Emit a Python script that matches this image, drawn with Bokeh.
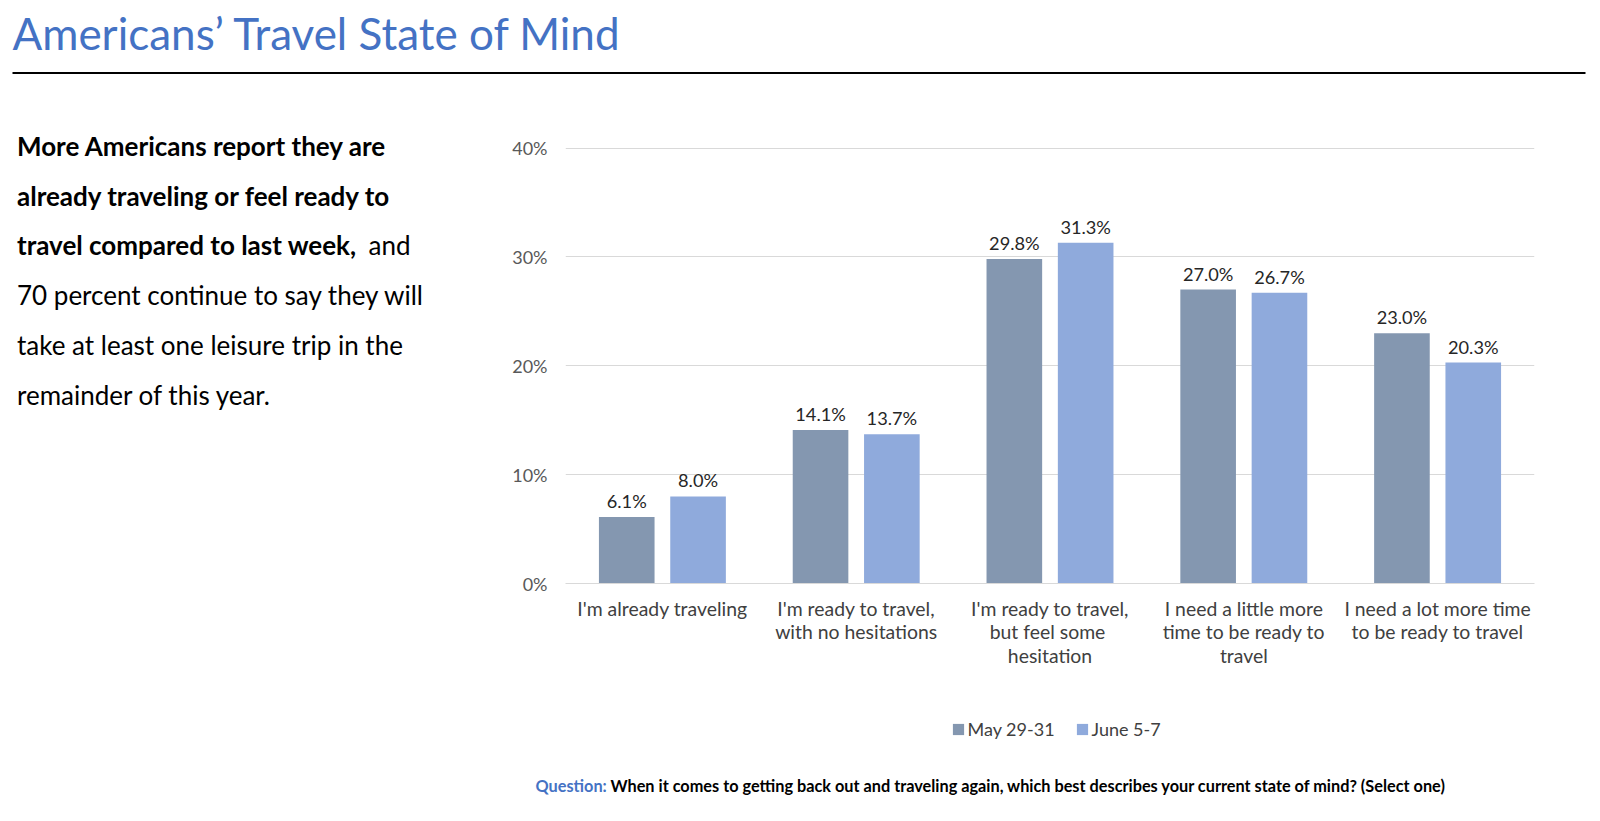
from bokeh.plotting import figure
from bokeh.layouts import column, row
from bokeh.models import (ColumnDataSource, FixedTicker, PrintfTickFormatter, Label,
                          LabelSet, Legend, LegendItem, BoxAnnotation, Range1d)
from bokeh.core.properties import value
from bokeh.embed import file_html
from bokeh.resources import INLINE

categories = ["I'm already traveling",
              "I'm ready to travel,\nwith no hesitations",
              "I'm ready to travel,\nbut feel  some\nhesitation",
              "I need a little more\ntime to be ready to\ntravel",
              "I need a lot more time\nto be ready to travel"]
may_values = [6.1, 14.1, 29.8, 27.0, 23.0]
june_values = [8.0, 13.7, 31.3, 26.7, 20.3]
series_names = ["May 29-31", "June 5-7"]
y_ticks = [0, 10, 20, 30, 40]

MAY_COLOR = "#8497B0"
JUNE_COLOR = "#8FAADC"
BLUE = "#4472C4"
FONT = "Lato"

W = 1590
H_TOP, H_MID, H_BOT = 120, 570, 115
W_LEFT = 480
W_CHART = W - W_LEFT
B_TOP, B_BOT = 8, 107          # shared frame borders of the middle row
Y_END = 41.8                   # headroom above 40% (keeps frame tall enough for text)


def text_fig(w, h, y_top=0, y_bot=None, b_top=0, b_bot=0):
    if y_bot is None:
        y_bot = h
    f = figure(width=w, height=h, output_backend="svg", toolbar_location=None,
               x_range=Range1d(0, w), y_range=Range1d(y_bot, y_top),
               x_axis_type=None, y_axis_type=None,
               min_border=0, min_border_left=0, min_border_right=0,
               min_border_top=b_top, min_border_bottom=b_bot)
    f.outline_line_color = None
    f.grid.visible = False
    f.background_fill_color = "white"
    f.border_fill_color = "white"
    return f


# ---------- top: title + rule ----------
ft = text_fig(W, H_TOP)
ft.add_layout(Label(x=12, y=32.5, text="Americans\u2019 Travel State of Mind", text_font=FONT,
                    text_font_size="44px", text_color=BLUE,
                    text_baseline="middle", text_align="left"))
ft.add_layout(BoxAnnotation(left=12, right=1585, top=71.6, bottom=73.6,
                            fill_color="black", fill_alpha=1, line_color=None))

# ---------- left: paragraph (data y = page y) ----------
fl = text_fig(W_LEFT, H_MID, y_top=H_TOP + B_TOP, y_bot=H_TOP + H_MID - B_BOT,
              b_top=B_TOP, b_bot=B_BOT)
para = [("More Americans report they are", "bold"),
        ("already traveling or feel ready to", "bold"),
        ("travel compared to last week,", "bold"),
        ("70 percent continue to say they will", "normal"),
        ("take at least one leisure trip in the", "normal"),
        ("remainder of this year.", "normal")]
y0, dy = 145.3, 49.8
for k, (t, st) in enumerate(para):
    fl.add_layout(Label(x=16.5, y=y0 + k * dy, text=t, text_font=FONT, text_font_style=st,
                        text_font_size="26px", text_color="black",
                        text_baseline="middle", text_align="left"))
fl.add_layout(Label(x=368, y=y0 + 2 * dy, text="and", text_font=FONT,
                    text_font_size="26px", text_color="black",
                    text_baseline="middle", text_align="left"))

# ---------- chart ----------
p = figure(width=W_CHART, height=H_MID, output_backend="svg", toolbar_location=None,
           x_range=(-0.5, len(categories) - 0.5), y_range=(0, Y_END),
           min_border_left=85, min_border_right=W_CHART - (1534 - W_LEFT),
           min_border_top=B_TOP, min_border_bottom=B_BOT)
p.outline_line_color = None
p.background_fill_color = "white"
p.border_fill_color = "white"

idx = list(range(len(categories)))
src = ColumnDataSource(dict(
    x_may=[i - 0.184 for i in idx], x_june=[i + 0.184 for i in idx],
    may=may_values, june=june_values,
    may_lbl=[f"{v:.1f}%" for v in may_values],
    june_lbl=[f"{v:.1f}%" for v in june_values]))

p.vbar(x="x_may", top="may", width=0.287, source=src,
       fill_color=MAY_COLOR, line_color=None)
p.vbar(x="x_june", top="june", width=0.287, source=src,
       fill_color=JUNE_COLOR, line_color=None)

for xcol, ycol, tcol in [("x_may", "may", "may_lbl"), ("x_june", "june", "june_lbl")]:
    p.add_layout(LabelSet(x=xcol, y=ycol, text=tcol, source=src, y_offset=5,
                          text_align="center", text_baseline="bottom",
                          text_font=value(FONT), text_font_size=value("18.2px"),
                          text_color=value("#262626")))

p.yaxis.ticker = FixedTicker(ticks=y_ticks)
p.yaxis.formatter = PrintfTickFormatter(format="%d%%")
p.yaxis.axis_line_color = None
p.yaxis.major_tick_line_color = None
p.yaxis.minor_tick_line_color = None
p.yaxis.major_tick_out = 0
p.yaxis.major_tick_in = 0
p.yaxis.major_label_standoff = 18
p.yaxis.major_label_text_font = FONT
p.yaxis.major_label_text_font_size = "18px"
p.yaxis.major_label_text_color = "#595959"

p.xaxis.ticker = FixedTicker(ticks=idx)
p.xaxis.major_label_overrides = {i: c for i, c in zip(idx, categories)}
p.xaxis.axis_line_color = "#D9D9D9"
p.xaxis.major_tick_line_color = None
p.xaxis.minor_tick_line_color = None
p.xaxis.major_tick_out = 0
p.xaxis.major_tick_in = 0
p.xaxis.major_label_standoff = 13
p.xaxis.major_label_text_font = FONT
p.xaxis.major_label_text_font_size = "19.4px"
p.xaxis.major_label_text_line_height = 1.03
p.xaxis.major_label_text_color = "#404040"

p.xgrid.grid_line_color = None
p.ygrid.ticker = FixedTicker(ticks=y_ticks)
p.ygrid.grid_line_color = "#D9D9D9"

# ---------- bottom: legend + question ----------
fb = text_fig(W, H_BOT)
# legend swatches (placed off-canvas; only their legend entries are shown)
r1 = fb.vbar(x=[-100], top=[-100], width=1, fill_color=MAY_COLOR, line_color=None)
r2 = fb.vbar(x=[-100], top=[-100], width=1, fill_color=JUNE_COLOR, line_color=None)
legend = Legend(items=[LegendItem(label=series_names[0], renderers=[r1]),
                       LegendItem(label=series_names[1], renderers=[r2])],
                location=(950.5, 65), orientation="horizontal",
                glyph_width=14, glyph_height=14, label_height=20, label_standoff=3,
                spacing=20, padding=0, margin=0, border_line_color=None,
                background_fill_alpha=0, label_text_font=FONT,
                label_text_font_size="18px", label_text_color="#404040")
fb.add_layout(legend, "center")

fb.add_layout(Label(x=535, y=95, text="Question:", text_font=FONT, text_font_style="bold",
                    text_font_size="16.3px", text_color=BLUE,
                    text_baseline="middle", text_align="left"))
fb.add_layout(Label(x=610, y=95,
                    text="When it comes to getting back out and traveling again, which best describes your current state of mind? (Select one)",
                    text_font=FONT, text_font_style="bold",
                    text_font_size="16.3px", text_color="black",
                    text_baseline="middle", text_align="left"))

layout = column(ft, row(fl, p), fb)
open("out.html", "w").write(file_html(layout, INLINE))
